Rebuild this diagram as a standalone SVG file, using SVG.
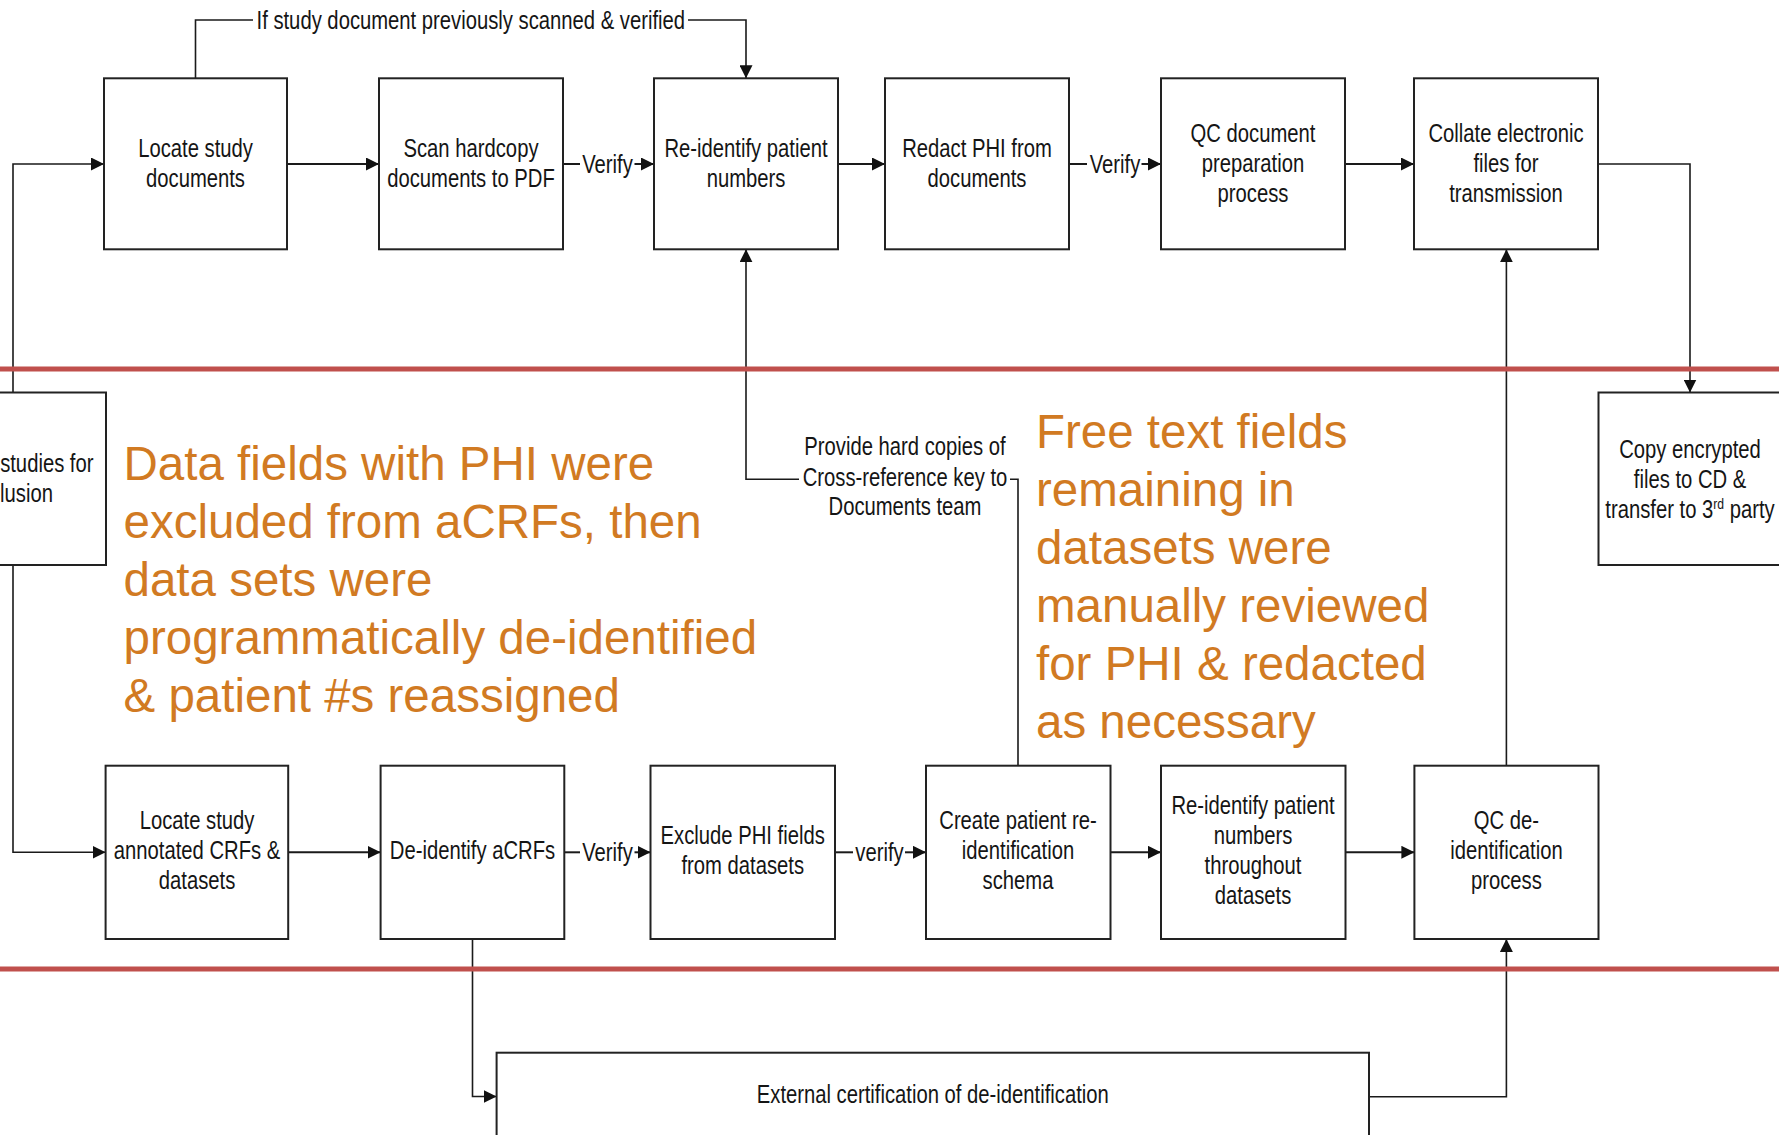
<svg xmlns="http://www.w3.org/2000/svg" width="1779" height="1135" viewBox="0 0 1779 1135">
  <defs>
    <marker id="arrow" markerUnits="userSpaceOnUse" viewBox="0 0 13 13" markerWidth="13" markerHeight="13" refX="13" refY="6.5" orient="auto">
      <path d="M0,0 L13,6.5 L0,13 z" fill="#111"/>
    </marker>
    <style>
      .box { fill: #fff; stroke: #222; stroke-width: 2; }
      /* condensed sans: regular face squeezed horizontally to 81% */
      .lbl { font-family: "Liberation Sans", Arial, sans-serif; font-size: 25px; fill: #151515; text-anchor: middle; }
      .end { text-anchor: end; }
      .note { font-family: "Liberation Sans", Arial, sans-serif; font-size: 47.5px; fill: #D17A22; }
      .wire { fill: none; stroke: #1a1a1a; stroke-width: 2; }
      .thin { fill: none; stroke: #1a1a1a; stroke-width: 1.6; }
      .lane { stroke: #C0504D; stroke-width: 5; }
    </style>
  </defs>

  <rect width="1779" height="1135" fill="#fff"/>

  <!-- connectors -->
  <g id="connectors">
    <!-- loop over the scanning step -->
    <path class="thin" d="M195.5,78.3 V20 H253"/>
    <path class="thin" d="M688,20 H746 V78.3" marker-end="url(#arrow)"/>
    <text class="lbl" transform="matrix(.81 0 0 1 470.8 29)">If study document previously scanned &amp; verified</text>

    <!-- from the study selection box -->
    <path class="thin" d="M13,392.5 V164 H104" marker-end="url(#arrow)"/>
    <path class="thin" d="M13,565 V852.3 H105.6" marker-end="url(#arrow)"/>

    <!-- document track -->
    <path class="wire" d="M287,164 H379" marker-end="url(#arrow)"/>
    <path class="wire" d="M563,164 H580"/>
    <text class="lbl" transform="matrix(.81 0 0 1 607.5 173)">Verify</text>
    <path class="wire" d="M634.5,164 H654" marker-end="url(#arrow)"/>
    <path class="wire" d="M838,164 H885" marker-end="url(#arrow)"/>
    <path class="wire" d="M1069,164 H1087"/>
    <text class="lbl" transform="matrix(.81 0 0 1 1115 173)">Verify</text>
    <path class="wire" d="M1141.5,164 H1161" marker-end="url(#arrow)"/>
    <path class="wire" d="M1345,164 H1414" marker-end="url(#arrow)"/>
    <path class="thin" d="M1598,164 H1690 V392.5" marker-end="url(#arrow)"/>

    <!-- cross-reference key hand-off -->
    <path class="thin" d="M1018,765.7 V479.3 H1010"/>
    <path class="thin" d="M799,479.3 H746 V249.3" marker-end="url(#arrow)"/>
    <text class="lbl" transform="matrix(.81 0 0 1 905 455)">Provide hard copies of</text>
    <text class="lbl" transform="matrix(.81 0 0 1 905 485.5)">Cross-reference key to</text>
    <text class="lbl" transform="matrix(.81 0 0 1 905 515)">Documents team</text>

    <!-- dataset track -->
    <path class="wire" d="M288,852.3 H380.6" marker-end="url(#arrow)"/>
    <path class="wire" d="M564.3,852.3 H580"/>
    <text class="lbl" transform="matrix(.81 0 0 1 607.5 861)">Verify</text>
    <path class="wire" d="M634.5,852.3 H650.5" marker-end="url(#arrow)"/>
    <path class="wire" d="M835,852.3 H853"/>
    <text class="lbl" transform="matrix(.81 0 0 1 879.5 861)">verify</text>
    <path class="wire" d="M905,852.3 H926" marker-end="url(#arrow)"/>
    <path class="wire" d="M1110,852.3 H1161" marker-end="url(#arrow)"/>
    <path class="wire" d="M1345,852.3 H1414.4" marker-end="url(#arrow)"/>
    <path class="thin" d="M1506.4,765.7 V249.3" marker-end="url(#arrow)"/>

    <!-- external certification loop -->
    <path class="thin" d="M472.5,939 V1096.5 H496.6" marker-end="url(#arrow)"/>
    <path class="thin" d="M1369,1096.7 H1506.4 V939" marker-end="url(#arrow)"/>
  </g>

  <!-- lane separators -->
  <line class="lane" x1="0" y1="369" x2="1779" y2="369"/>
  <line class="lane" x1="0" y1="969" x2="1779" y2="969"/>

  <!-- top row: documents -->
  <g id="locate-docs">
    <rect class="box" x="104" y="78.3" width="183" height="171"/>
    <text class="lbl" transform="matrix(.81 0 0 1 195.5 156.7)">Locate study</text>
    <text class="lbl" transform="matrix(.81 0 0 1 195.5 186.7)">documents</text>
  </g>
  <g id="scan-pdf">
    <rect class="box" x="379" y="78.3" width="184" height="171"/>
    <text class="lbl" transform="matrix(.81 0 0 1 471 156.7)">Scan hardcopy</text>
    <text class="lbl" transform="matrix(.81 0 0 1 471 186.7)">documents to PDF</text>
  </g>
  <g id="reidentify-docs">
    <rect class="box" x="654" y="78.3" width="184" height="171"/>
    <text class="lbl" transform="matrix(.81 0 0 1 746 156.7)">Re-identify patient</text>
    <text class="lbl" transform="matrix(.81 0 0 1 746 186.7)">numbers</text>
  </g>
  <g id="redact-phi">
    <rect class="box" x="885" y="78.3" width="184" height="171"/>
    <text class="lbl" transform="matrix(.81 0 0 1 977 156.7)">Redact PHI from</text>
    <text class="lbl" transform="matrix(.81 0 0 1 977 186.7)">documents</text>
  </g>
  <g id="qc-docs">
    <rect class="box" x="1161" y="78.3" width="184" height="171"/>
    <text class="lbl" transform="matrix(.81 0 0 1 1253 141.7)">QC document</text>
    <text class="lbl" transform="matrix(.81 0 0 1 1253 171.7)">preparation</text>
    <text class="lbl" transform="matrix(.81 0 0 1 1253 201.7)">process</text>
  </g>
  <g id="collate-files">
    <rect class="box" x="1414" y="78.3" width="184" height="171"/>
    <text class="lbl" transform="matrix(.81 0 0 1 1506 141.7)">Collate electronic</text>
    <text class="lbl" transform="matrix(.81 0 0 1 1506 171.7)">files for</text>
    <text class="lbl" transform="matrix(.81 0 0 1 1506 201.7)">transmission</text>
  </g>

  <!-- middle row -->
  <g id="select-studies">
    <rect class="box" x="-78" y="392.5" width="184" height="172.5"/>
    <text class="lbl end" transform="matrix(.81 0 0 1 93.5 471.7)">studies for</text>
    <text class="lbl end" transform="matrix(.81 0 0 1 53 501.7)">lusion</text>
  </g>
  <g id="copy-transfer">
    <rect class="box" x="1598.5" y="392.5" width="184" height="172.5"/>
    <text class="lbl" transform="matrix(.81 0 0 1 1690 458)">Copy encrypted</text>
    <text class="lbl" transform="matrix(.81 0 0 1 1690 488)">files to CD &amp;</text>
    <text class="lbl" transform="matrix(.81 0 0 1 1690 517.5)">transfer to 3<tspan font-size="15" dy="-9">rd</tspan><tspan dy="9"> party</tspan></text>
  </g>

  <g id="note-datasets">
    <text class="note" x="123.5" y="480">Data fields with PHI were</text>
    <text class="note" x="123.5" y="537.9">excluded from aCRFs, then</text>
    <text class="note" x="123.5" y="595.8">data sets were</text>
    <text class="note" x="123.5" y="653.7">programmatically de-identified</text>
    <text class="note" x="123.5" y="711.6">&amp; patient #s reassigned</text>
  </g>
  <g id="note-freetext">
    <text class="note" x="1036" y="448.3">Free text fields</text>
    <text class="note" x="1036" y="506.1">remaining in</text>
    <text class="note" x="1036" y="564">datasets were</text>
    <text class="note" x="1036" y="621.8">manually reviewed</text>
    <text class="note" x="1036" y="679.6">for PHI &amp; redacted</text>
    <text class="note" x="1036" y="737.5">as necessary</text>
  </g>

  <!-- bottom row: datasets -->
  <g id="locate-crfs">
    <rect class="box" x="105.6" y="765.7" width="182.6" height="173.3"/>
    <text class="lbl" transform="matrix(.81 0 0 1 197 828.5)">Locate study</text>
    <text class="lbl" transform="matrix(.81 0 0 1 197 858.5)">annotated CRFs &amp;</text>
    <text class="lbl" transform="matrix(.81 0 0 1 197 888.5)">datasets</text>
  </g>
  <g id="deidentify-acrfs">
    <rect class="box" x="380.6" y="765.7" width="183.7" height="173.3"/>
    <text class="lbl" transform="matrix(.81 0 0 1 472.5 859)">De-identify aCRFs</text>
  </g>
  <g id="exclude-phi">
    <rect class="box" x="650.5" y="765.7" width="184.5" height="173.3"/>
    <text class="lbl" transform="matrix(.81 0 0 1 742.7 843.5)">Exclude PHI fields</text>
    <text class="lbl" transform="matrix(.81 0 0 1 742.7 873.5)">from datasets</text>
  </g>
  <g id="create-schema">
    <rect class="box" x="926" y="765.7" width="184.5" height="173.3"/>
    <text class="lbl" transform="matrix(.81 0 0 1 1018 828.5)">Create patient re-</text>
    <text class="lbl" transform="matrix(.81 0 0 1 1018 858.5)">identification</text>
    <text class="lbl" transform="matrix(.81 0 0 1 1018 888.5)">schema</text>
  </g>
  <g id="reidentify-datasets">
    <rect class="box" x="1161" y="765.7" width="184.5" height="173.3"/>
    <text class="lbl" transform="matrix(.81 0 0 1 1253 813.5)">Re-identify patient</text>
    <text class="lbl" transform="matrix(.81 0 0 1 1253 843.5)">numbers</text>
    <text class="lbl" transform="matrix(.81 0 0 1 1253 873.5)">throughout</text>
    <text class="lbl" transform="matrix(.81 0 0 1 1253 903.5)">datasets</text>
  </g>
  <g id="qc-deidentification">
    <rect class="box" x="1414.4" y="765.7" width="184.1" height="173.3"/>
    <text class="lbl" transform="matrix(.81 0 0 1 1506.4 828.5)">QC de-</text>
    <text class="lbl" transform="matrix(.81 0 0 1 1506.4 858.5)">identification</text>
    <text class="lbl" transform="matrix(.81 0 0 1 1506.4 888.5)">process</text>
  </g>

  <!-- external certification -->
  <g id="external-cert">
    <rect class="box" x="496.6" y="1052.7" width="872.4" height="120"/>
    <text class="lbl" transform="matrix(.81 0 0 1 932.8 1103)">External certification of de-identification</text>
  </g>
</svg>
